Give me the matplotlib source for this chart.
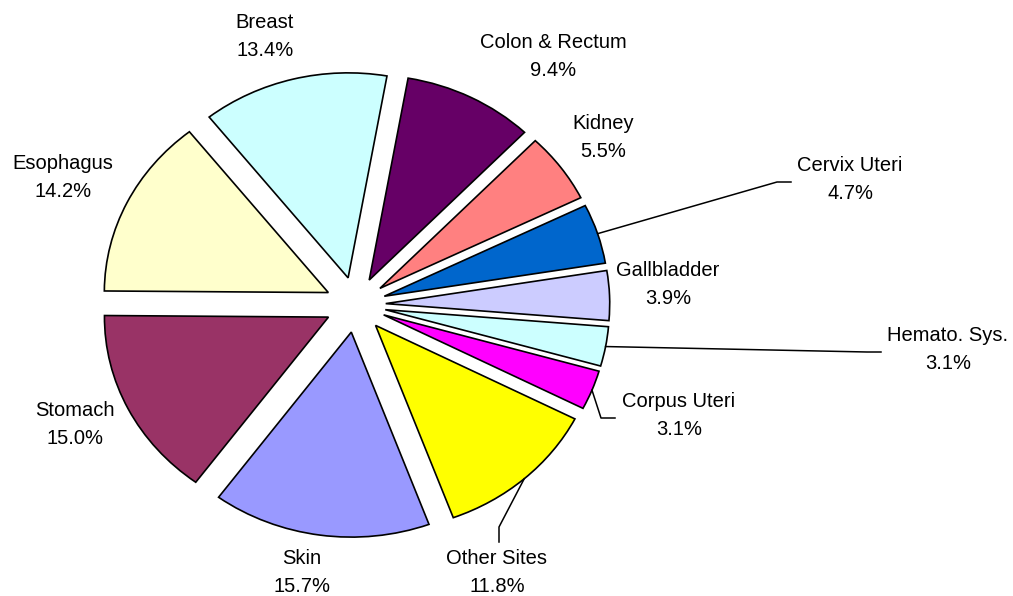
import numpy as np
import matplotlib.pyplot as plt

# cancer sites, clockwise from the top
sites = ['Colon & Rectum', 'Kidney', 'Cervix Uteri', 'Gallbladder', 'Hemato. Sys.',
         'Corpus Uteri', 'Other Sites', 'Skin', 'Stomach', 'Esophagus', 'Breast']
shares = [9.4, 5.5, 4.7, 3.9, 3.1, 3.1, 11.8, 15.7, 15.0, 14.2, 13.4]
colors = ['#660066', '#FF8080', '#0066CC', '#CCCCFF', '#CCFFFF', '#FF00FF',
          '#FFFF00', '#9999FF', '#993366', '#FFFFCC', '#CCFFFF']

W, H = 1013, 596
# pie centre and radii in pixels (the pie is a bit stretched sideways)
CX, CY, RX, RY = 355.5, 304.7, 224.0, 205.0


def to_data(px, py):
    return (px - CX) / RX, (CY - py) / RY


# label block centres in pixels
label_pos = {
    'Colon & Rectum': (553, 57),
    'Kidney': (603, 138),
    'Cervix Uteri': (850, 180),
    'Gallbladder': (668, 285),
    'Hemato. Sys.': (948, 350),
    'Corpus Uteri': (679, 416),
    'Other Sites': (497, 572),
    'Skin': (302, 572),
    'Stomach': (75, 425),
    'Esophagus': (63, 178),
    'Breast': (265, 37),
}
# leader lines: elbow and end point in pixels
leaders = {
    'Cervix Uteri': [(777, 182), (791, 182)],
    'Hemato. Sys.': [(867, 352), (881, 352)],
    'Corpus Uteri': [(601, 418), (615, 418)],
    'Other Sites': [(499, 527), (499, 542)],
}

fig = plt.figure(figsize=(W / 100, H / 100), dpi=100)
ax = fig.add_axes([0, 0, 1, 1])

wedges, _ = ax.pie(shares, colors=colors, startangle=80, counterclock=False,
                   explode=[0.135] * len(shares),
                   wedgeprops=dict(edgecolor='black', linewidth=1.2))
ax.set_aspect('auto')
x0, y0 = to_data(0, H)
x1, y1 = to_data(W, 0)
ax.set_xlim(x0, x1)
ax.set_ylim(y0, y1)
ax.axis('off')

for w, name, val in zip(wedges, sites, shares):
    tx, ty = to_data(*label_pos[name])
    ax.text(tx, ty, f"{name}\n{val:.1f}%", ha='center', va='center',
            fontsize=14.5, family='Liberation Sans', linespacing=1.6)
    if name in leaders:
        mid = np.deg2rad((w.theta1 + w.theta2) / 2)
        sx = w.center[0] + w.r * np.cos(mid)
        sy = w.center[1] + w.r * np.sin(mid)
        pts = [(sx, sy)] + [to_data(*p) for p in leaders[name]]
        ax.plot([p[0] for p in pts], [p[1] for p in pts], color='black', lw=1.1)

fig.savefig('out.png', dpi=100)
